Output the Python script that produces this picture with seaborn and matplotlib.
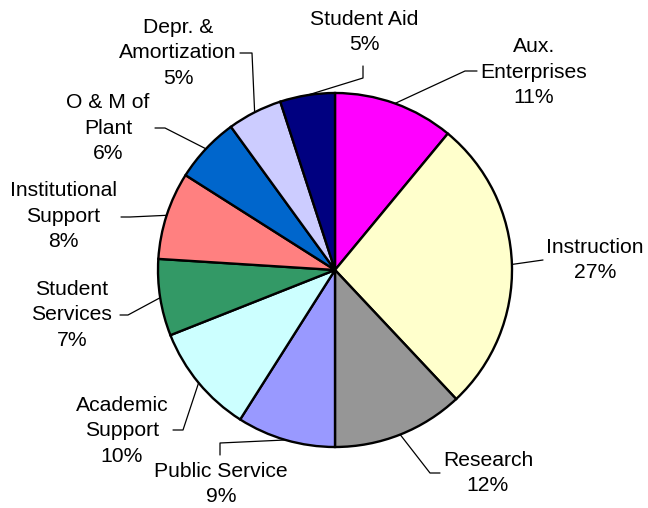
import numpy as np
import matplotlib
matplotlib.use("Agg")
import matplotlib.pyplot as plt
import seaborn as sns

# Expense categories, clockwise from 12 o'clock
categories = [
    "Aux. Enterprises", "Instruction", "Research", "Public Service",
    "Academic Support", "Student Services", "Institutional Support",
    "O & M of Plant", "Depr. & Amortization", "Student Aid",
]
label_lines = [
    "Aux.\nEnterprises", "Instruction", "Research", "Public Service",
    "Academic\nSupport", "Student\nServices", "Institutional\nSupport",
    "O & M of\nPlant", "Depr. &\nAmortization", "Student Aid",
]
percentages = [11, 27, 12, 9, 10, 7, 8, 6, 5, 5]
slice_colors = [
    "#FF00FF", "#FFFFCC", "#969696", "#9999FF", "#CCFFFF",
    "#339966", "#FF8080", "#0066CC", "#CCCCFF", "#000080",
]

W, H = 648, 508
sns.set_theme(style="white")
plt.rcParams["font.family"] = ["Liberation Sans", "DejaVu Sans"]

fig = plt.figure(figsize=(W / 100, H / 100), dpi=100)
ax = fig.add_axes([0, 0, 1, 1])

def py(y):
    """Convert a top-down pixel row into the axes' y coordinate."""
    return H - y

cx, cy, r = 335, 270, 177
palette = sns.color_palette(slice_colors)
ax.pie(
    percentages, colors=palette, startangle=90, counterclock=False,
    center=(cx, py(cy)), radius=r, frame=True,
    wedgeprops=dict(edgecolor="black", linewidth=1.7),
)
ax.set_xlim(0, W)
ax.set_ylim(0, H)
ax.set_aspect("equal")
ax.axis("off")

# Label placement: text centre, elbow of leader, leader end near the text
layout = [
    ((534, 72), (465, 71), (477, 71)),
    ((595, 260), None, (543, 260)),
    ((488, 473), (430, 473), (440, 473)),
    ((221, 484), (220, 443), (220, 455)),
    ((122, 431), (183, 430), (173, 430)),
    ((72, 315), (128, 315), (120, 315)),
    ((63, 216), (130, 217), (121, 217)),
    ((108, 128), (165, 128), (155, 128)),
    ((178, 53), (252, 53), (240, 53)),
    ((364, 32), (363, 78), (363, 66)),
]

total = float(sum(percentages))
cum = 0.0
for lbl, pct, (txt, elbow, end) in zip(label_lines, percentages, layout):
    mid = (cum + pct / 2) / total * 2 * np.pi
    cum += pct
    ex = cx + r * np.sin(mid)
    ey = cy - r * np.cos(mid)
    xs, ys = [ex], [ey]
    if elbow is not None:
        xs.append(elbow[0]); ys.append(elbow[1])
    xs.append(end[0]); ys.append(end[1])
    ax.plot(xs, [py(v) for v in ys], color="black", lw=0.9, zorder=1)
    ax.text(txt[0], py(txt[1]), f"{lbl}\n{pct}%", ha="center", va="center",
            fontsize=15.2, linespacing=1.44, color="black")

fig.savefig("out.png", dpi=100, facecolor="white")
